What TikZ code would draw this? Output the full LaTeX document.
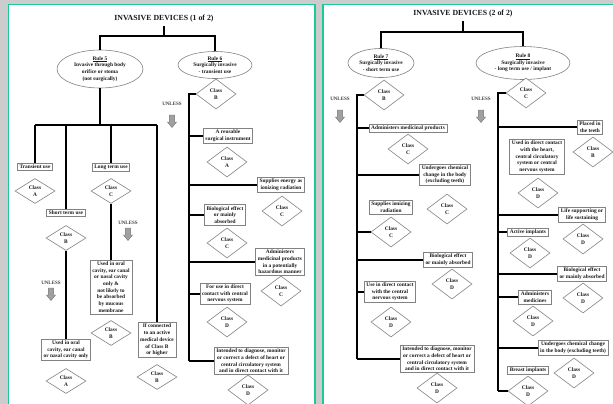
\documentclass[tikz,border=0pt]{standalone}
\usepackage{fontspec}
\setmainfont{Liberation Serif}
\usetikzlibrary{shapes.geometric}

\definecolor{pagegrey}{RGB}{204,204,204}
\definecolor{panelrim}{RGB}{30,200,150}
\definecolor{boxrim}{RGB}{130,130,130}
\definecolor{inktext}{RGB}{25,25,25}
\definecolor{arrowfill}{RGB}{160,160,160}

\tikzset{
  every node/.style={font=\fontsize{5.4}{6.7}\selectfont\bfseries, text=inktext},
  cbox/.style={draw=boxrim, line width=0.7pt, fill=white, align=center,
               inner xsep=2.2pt, inner ysep=1.6pt},
  cls/.style={diamond, draw=boxrim, line width=0.6pt, fill=white, align=center,
              minimum width=40pt, minimum height=30pt, inner sep=0pt},
  clsS/.style={cls, minimum height=25pt},
  rule/.style={ellipse, draw=boxrim, line width=0.6pt, fill=white, align=center,
               inner sep=-3pt},
  link/.style={line width=1.6pt, black},
  heading/.style={font=\fontsize{7.8}{8}\selectfont\bfseries},
  unl/.style={font=\fontsize{5}{5}\selectfont\bfseries, text=black!75},
  pics/downarr/.style={code={
    \draw[draw=black!55, fill=arrowfill, line width=0.4pt]
      (-2.6,0) -- (2.6,0) -- (2.6,7) -- (4.6,7) -- (0,12.5) -- (-4.6,7) -- (-2.6,7) -- cycle;
  }},
}

\begin{document}
\begin{tikzpicture}[x=1pt, y=-1pt]
  \useasboundingbox (0,0) rectangle (613,404);
  \fill[pagegrey] (0,0) rectangle (613,404);
  \draw[panelrim, line width=1.6pt, fill=white] (8.5,4.5) rectangle (315,420);
  \draw[panelrim, line width=1.6pt, fill=white] (323,4.5) rectangle (640,420);

  % ---------------- Invasive devices, sheet 1 ----------------
  \node[heading] (t1) at (164,19) {INVASIVE DEVICES (1 of 2)};
  \node[rule, minimum width=86pt, minimum height=38pt] (r5) at (100,69)
    {\underline{Rule 5}\\Invasive through body\\orifice or stoma\\(not surgically)};
  \node[rule, minimum width=74pt, minimum height=27pt] (r6) at (215,65)
    {\underline{Rule 6}\\Surgically invasive\\- transient use};
  \coordinate (j1) at (164,36);
  \draw[link] (t1.south) -- (j1);
  \draw[link] (r5.north) |- (j1) -| (r6.north);

  % Rule 5 branches
  \coordinate (h5) at (100,125);
  \coordinate (b1) at (35,125);
  \coordinate (b2) at (66,125);
  \coordinate (b3) at (111,125);
  \coordinate (b4) at (157,125);
  \draw[link] (r5.south) -- (h5);
  \draw[link] (b1) -- (b4);

  \node[cbox] (tu) at (35,167) {Transient use};
  \node[clsS] (ca1) at (35,191) {Class\\A};
  \node[cbox] (lt) at (111,167) {Long term use};
  \node[clsS] (cc1) at (111,191) {Class\\C};
  \node[cbox] (st) at (66,213) {Short term use};
  \node[clsS] (cb1) at (66,238) {Class\\B};
  \node[cbox] (oral1) at (66,350) {Used in oral\\cavity, ear canal\\or nasal cavity only};
  \node[clsS] (ca2) at (66,381) {Class\\A};
  \node[cbox] (oral2) at (111,287) {Used in oral\\cavity, ear canal\\or nasal cavity\\only \&\\not likely to\\be absorbed\\by mucous\\membrane};
  \node[clsS] (cb2) at (111,333) {Class\\B};
  \node[cbox] (conn) at (157,340) {If connected\\to an active\\medical device\\of Class B\\or higher};
  \node[clsS] (cb3) at (157,377) {Class\\B};

  \draw[link] (b1) -- (tu);
  \draw[link] (b2) -- (st);
  \draw[link] (b3) -- (lt);
  \draw[link] (b4) -- (conn);
  \draw[link] (cb1) -- (oral1);
  \draw[link] (cc1) -- (oral2);

  \node[unl] (u1) at (128,223) {UNLESS};
  \pic at (128,228) {downarr};
  \node[unl] (u2) at (51,283) {UNLESS};
  \pic at (51,288) {downarr};

  % Rule 6 branches
  \node[cls] (cb6) at (216,94) {Class\\B};
  \coordinate (s6top) at (189,94);
  \coordinate (s6bot) at (189,361);
  \draw[link] (cb6.west) -- (s6top) -- (s6bot);
  \node[unl] (u3) at (172,104) {UNLESS};
  \pic at (172,115) {downarr};

  \node[cbox] (reu) at (228,136) {A reusable\\surgical instrument};
  \node[cls] (ca6) at (227,162) {Class\\A};
  \node[cbox] (ion6) at (281,185) {Supplies energy as\\ionizing radiation};
  \node[cls] (cc6a) at (282,211) {Class\\C};
  \node[cbox] (bio6) at (225,215) {Biological effect\\or mainly\\absorbed};
  \node[cls] (cc6b) at (227,243) {Class\\C};
  \node[cbox] (med6) at (280,262) {Administers\\medicinal products\\in a potentially\\hazardous manner};
  \node[cls] (cc6c) at (281,291) {Class\\C};
  \node[cbox] (cns6) at (225,294) {For use in direct\\contact with central\\nervous system};
  \node[cls] (cd6a) at (227,322) {Class\\D};
  \node[cbox] (hrt6) at (251,361) {Intended to diagnose, monitor\\or correct a defect of heart or\\central circulatory system\\and in direct contact with it};
  \node[cls] (cd6b) at (248,390) {Class\\D};

  \draw[link] (s6top |- reu.west) -- (reu.west);
  \draw[link] (s6top |- ion6.west) -- (ion6.west);
  \draw[link] (s6top |- bio6.west) -- (bio6.west);
  \draw[link] (s6top |- med6.west) -- (med6.west);
  \draw[link] (s6top |- cns6.west) -- (cns6.west);
  \draw[link] (s6bot) -- (hrt6.west);

  % ---------------- Invasive devices, sheet 2 ----------------
  \node[heading] (t2) at (463,14) {INVASIVE DEVICES (2 of 2)};
  \node[rule, minimum width=66pt, minimum height=29pt] (r7) at (381,63)
    {\underline{Rule 7}\\Surgically invasive\\- short term use};
  \node[rule, minimum width=94pt, minimum height=33pt] (r8) at (523,63)
    {\underline{Rule 8}\\Surgically invasive\\- long term use / implant};
  \coordinate (j2) at (463,32);
  \draw[link] (t2.south) -- (j2);
  \draw[link] (r7.north) |- (j2) -| (r8.north);

  % Rule 7 branches
  \node[cls] (cb7) at (384,95) {Class\\B};
  \coordinate (s7top) at (357,95);
  \coordinate (s7bot) at (357,359);
  \draw[link] (cb7.west) -- (s7top) -- (s7bot);
  \node[unl] (u4) at (340,99) {UNLESS};
  \pic at (340,110) {downarr};

  \node[cbox] (med7) at (408,128) {Administers medicinal products};
  \node[cls] (cc7a) at (408,149) {Class\\C};
  \node[cbox] (chem7) at (445,175) {Undergoes chemical\\change in the body\\(excluding teeth)};
  \node[cls] (cc7b) at (447,209) {Class\\C};
  \node[cbox] (ion7) at (391,207) {Supplies ionizing\\radiation};
  \node[cls] (cc7c) at (391,232) {Class\\C};
  \node[cbox] (bio7) at (448,260) {Biological effect\\or mainly absorbed};
  \node[cls] (cd7a) at (452,284) {Class\\D};
  \node[cbox] (cns7) at (390,292) {Use in direct contact\\with the central\\nervous system};
  \node[cls] (cd7b) at (391,322) {Class\\D};
  \node[cbox] (hrt7) at (437,359) {Intended to diagnose, monitor\\or correct a defect of heart or\\central circulatory system\\and in direct contact with it};
  \node[cls] (cd7c) at (437,388) {Class\\D};

  \draw[link] (s7top |- med7.west) -- (med7.west);
  \draw[link] (s7top |- chem7.west) -- (chem7.west);
  \draw[link] (s7top |- cc7c.west) -- (cc7c.west);
  \draw[link] (s7top |- bio7.west) -- (bio7.west);
  \draw[link] (s7top |- cns7.west) -- (cns7.west);
  \draw[link] (s7bot) -- (hrt7.west);

  % Rule 8 branches
  \node[cls] (cc8) at (526,93) {Class\\C};
  \coordinate (s8top) at (498,93);
  \coordinate (s8bot) at (498,391);
  \draw[link] (cc8.west) -- (s8top) -- (s8bot);
  \node[unl] (u5) at (481,99) {UNLESS};
  \pic at (481,110) {downarr};

  \node[cbox] (teeth) at (590,127) {Placed in\\the teeth};
  \node[cls] (cb8) at (593,152) {Class\\B};
  \node[cbox] (heart8) at (537,157) {Used in direct contact\\with the heart,\\central circulatory\\system or central\\nervous system};
  \node[cls] (cd8a) at (538,193) {Class\\D};
  \node[cbox] (life) at (582,215) {Life supporting or\\life sustaining};
  \node[cls] (cd8b) at (583,239) {Class\\D};
  \node[cbox] (act) at (528,232) {Active implants};
  \node[cls] (cd8c) at (530,253) {Class\\D};
  \node[cbox] (bio8) at (582,274) {Biological effect\\or mainly absorbed};
  \node[cls] (cd8d) at (583,298) {Class\\D};
  \node[cbox] (med8) at (535,297) {Administers\\medicines};
  \node[cls] (cd8e) at (533,321) {Class\\D};
  \node[cbox] (chem8) at (573,348) {Undergoes chemical change\\in the body (excluding teeth)};
  \node[cls] (cd8f) at (574,373) {Class\\D};
  \node[cbox] (breast) at (528,370) {Breast implants};
  \node[cls] (cd8g) at (528,391) {Class\\D};

  \draw[link] (s8top |- teeth.west) -- (teeth.west);
  \draw[link] (s8top |- life.west) -- (life.west);
  \draw[link] (s8top |- act.west) -- (act.west);
  \draw[link] (s8top |- bio8.west) -- (bio8.west);
  \draw[link] (s8top |- med8.west) -- (med8.west);
  \draw[link] (s8top |- chem8.west) -- (chem8.west);
  \draw[link] (s8bot) -- (cd8g.west);
\end{tikzpicture}
\end{document}
